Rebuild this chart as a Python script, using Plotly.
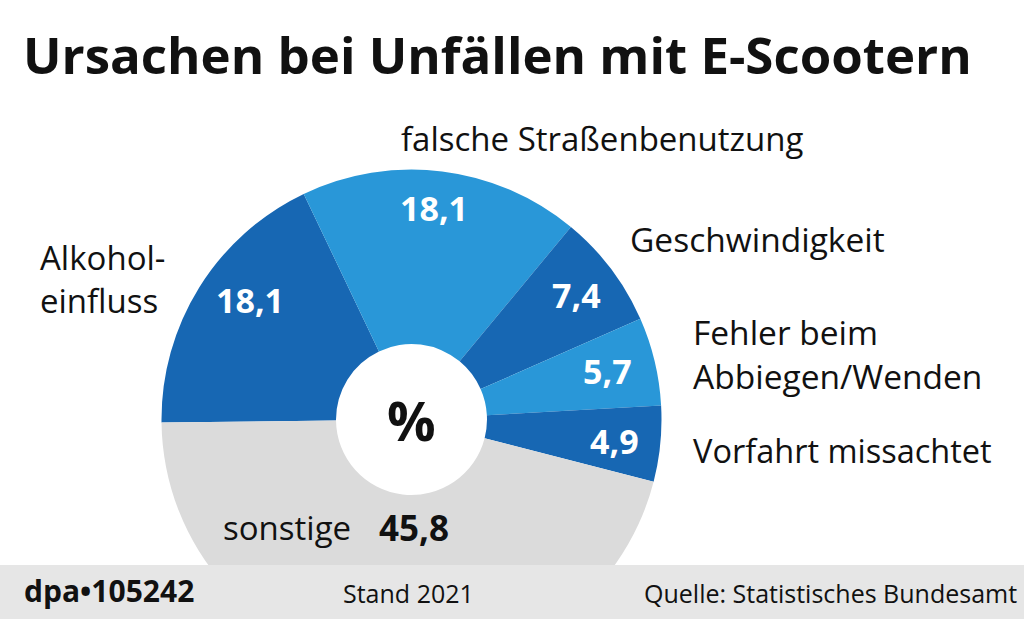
import plotly.graph_objects as go

W = 1024
H = 700

labels = ["Alkoholeinfluss", "falsche Straßenbenutzung", "Geschwindigkeit",
          "Fehler beim Abbiegen/Wenden", "Vorfahrt missachtet", "sonstige"]
values = [18.1, 18.1, 7.4, 5.7, 4.9, 45.8]
colors = ["#1767b3", "#2997d8", "#1767b3", "#2997d8", "#1767b3", "#dbdbdb"]
value_text = ["18,1", "18,1", "7,4", "5,7", "4,9"]
value_pos = [(250, 300), (434, 208), (576, 295), (607, 371), (614, 441)]

FONT = "Open Sans"


def px(x):
    return x / W


def py(y):
    return 1 - y / H


fig = go.Figure()
fig.add_trace(go.Pie(
    labels=labels,
    values=values,
    sort=False,
    direction="clockwise",
    rotation=269.3,
    hole=0.302,
    marker=dict(colors=colors, line=dict(width=0)),
    textinfo="none",
    hoverinfo="label+value",
    showlegend=False,
    domain=dict(x=[px(161.5), px(661.5)], y=[py(669.5), py(169.5)]),
))


def note(x, y, text, size=33, color="#111111", bold=False, anchor="left"):
    fig.add_annotation(
        x=px(x), y=py(y), xref="paper", yref="paper", text=text, showarrow=False,
        xanchor=anchor, yanchor="middle", align=anchor,
        font=dict(family=FONT, size=size, color=color, weight="bold" if bold else "normal"),
    )


note(21, 54, "Ursachen bei Unfällen mit E-Scootern", size=51, bold=True)
note(399, 138, "falsche Straßenbenutzung")
note(628, 239, "Geschwindigkeit", size=33.5)
note(38, 279, "Alkohol-<br>einfluss")
note(691, 354, "Fehler beim<br>Abbiegen/Wenden", size=33.5)
note(691, 451, "Vorfahrt missachtet", size=32.5)
note(221, 527, "sonstige")
note(377, 527, "45,8", size=35, bold=True)
note(411, 420, "%", size=54, bold=True, anchor="center")

for txt, (x, y) in zip(value_text, value_pos):
    note(x, y, txt, size=34, color="white", bold=True, anchor="center")

# footer band covers the lower part of the pie
fig.add_shape(type="rect", xref="paper", yref="paper", x0=0, x1=1, y0=py(619), y1=py(565),
              fillcolor="#e6e6e6", line_width=0, layer="above")
fig.add_shape(type="rect", xref="paper", yref="paper", x0=0, x1=1, y0=0, y1=py(619),
              fillcolor="white", line_width=0, layer="above")

note(22, 590, "dpa•105242", size=30, bold=True)
note(341, 593, "Stand 2021", size=25)
note(1019, 593, "Quelle: Statistisches Bundesamt", size=25, anchor="right")

fig.update_layout(
    width=W, height=H,
    margin=dict(l=0, r=0, t=0, b=0),
    paper_bgcolor="white",
)
fig.write_html(
    "out.html",
    config={"displayModeBar": False},
    post_script="document.body.style.margin='0';document.documentElement.style.overflow='hidden';",
)
